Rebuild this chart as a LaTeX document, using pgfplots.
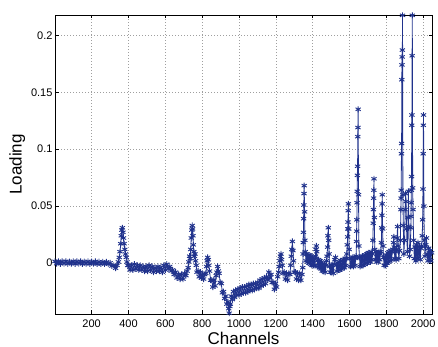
\documentclass[border=0pt]{standalone}
\usepackage{pgfplots}
\pgfplotsset{compat=1.18}
\usepackage{pgfplotstable}
\usepackage{fontspec}
\setmainfont{Liberation Sans}
\definecolor{specblue}{RGB}{32,50,140}
\pgfplotstableread{
x y
1 0.0015
10 -0.0005
20 0.0016
30 -0.0006
40 0.0014
50 -0.0004
60 0.0016
70 -0.0006
80 0.0013
90 -0.0005
100 0.0016
110 -0.0006
120 0.0014
130 -0.0004
140 0.0015
150 -0.0007
160 0.0013
170 -0.0005
180 0.0015
190 -0.0006
200 0.0012
210 -0.0005
220 0.0014
230 -0.0008
240 0.0012
250 -0.0006
260 0.0011
270 -0.0008
280 0.0010
290 -0.0010
300 0.0002
310 -0.0025
320 -0.002
330 -0.0045
338 -0.002
345 0.001
350 0.005
354 0.010
358 0.017
361 0.024
364 0.029
367 0.031
370 0.027
373 0.022
376 0.017
380 0.012
384 0.008
388 0.005
392 0.001
396 -0.002
400 -0.002
408 -0.006
416 -0.002
424 -0.006
432 -0.001
440 -0.005
448 -0.002
456 -0.006
464 -0.002
472 -0.006
480 -0.003
488 -0.007
496 -0.003
504 -0.007
512 -0.002
520 -0.006
528 -0.003
536 -0.008
544 -0.004
552 -0.007
560 -0.003
568 -0.007
576 -0.004
584 -0.008
592 -0.002
600 -0.006
608 -0.001
616 -0.005
624 -0.003
632 -0.007
640 -0.006
648 -0.010
656 -0.008
664 -0.013
672 -0.010
680 -0.014
688 -0.010
696 -0.014
704 -0.009
712 -0.011
718 -0.007
724 -0.004
728 0.001
732 0.006
735 0.004
738 0.012
741 0.022
744 0.029
746 0.033
748 0.030
750 0.024
752 0.016
755 0.010
758 0.006
761 0.008
764 0.002
768 -0.002
772 -0.008
778 -0.007
784 -0.012
790 -0.008
796 -0.013
802 -0.010
808 -0.014
814 -0.010
820 -0.009
824 -0.003
827 0.002
830 0.005
833 0.003
836 -0.002
840 -0.007
846 -0.015
852 -0.015
858 -0.021
864 -0.015
870 -0.020
876 -0.011
880 -0.008
884 -0.003
888 -0.007
892 -0.009
898 -0.017
904 -0.018
910 -0.026
916 -0.025
922 -0.031
928 -0.029
934 -0.036
940 -0.034
944 -0.040
947 -0.044
950 -0.038
953 -0.036
958 -0.029
964 -0.032
970 -0.025
976 -0.030
982 -0.024
988 -0.028
994 -0.023
1000 -0.028
1006 -0.022
1012 -0.027
1018 -0.021
1024 -0.026
1030 -0.021
1036 -0.026
1042 -0.020
1048 -0.025
1054 -0.019
1060 -0.024
1066 -0.019
1072 -0.024
1078 -0.018
1084 -0.023
1090 -0.018
1096 -0.022
1102 -0.017
1108 -0.022
1114 -0.015
1120 -0.020
1126 -0.014
1132 -0.019
1138 -0.013
1144 -0.018
1150 -0.012
1156 -0.015
1162 -0.008
1168 -0.013
1174 -0.010
1180 -0.017
1186 -0.017
1192 -0.023
1198 -0.018
1204 -0.021
1210 -0.012
1215 -0.008
1218 -0.003
1222 0.002
1225 0.006
1228 0.008
1231 0.003
1235 -0.002
1240 -0.009
1246 -0.008
1252 -0.014
1258 -0.009
1264 -0.015
1270 -0.009
1276 -0.010
1281 -0.002
1284 0.006
1287 0.012
1290 0.019
1293 0.011
1296 0.002
1300 -0.008
1306 -0.008
1312 -0.014
1318 -0.009
1324 -0.015
1330 -0.009
1336 -0.015
1342 -0.010
1346 -0.004
1348 0.008
1349 0.018
1350 0.027
1351 0.039
1352 0.051
1353 0.061
1354 0.068
1356 0.045
1358 0.020
1360 0.010
1364 0.002
1368 0.008
1372 0.001
1376 0.007
1380 0.000
1384 0.007
1388 -0.001
1392 0.006
1396 -0.002
1400 0.005
1404 -0.002
1408 0.004
1412 -0.002
1416 0.006
1418 0.012
1420 0.015
1422 0.010
1425 0.002
1428 -0.003
1432 0.003
1436 -0.004
1440 0.002
1444 -0.005
1448 0.001
1452 -0.007
1456 -0.001
1460 -0.007
1464 -0.001
1468 -0.008
1472 -0.002
1476 0.002
1478 0.006
1481 0.014
1483 0.024
1485 0.031
1487 0.020
1489 0.008
1492 -0.003
1496 -0.008
1500 -0.002
1504 -0.008
1508 -0.002
1512 -0.009
1516 -0.001
1520 0.003
1524 0.005
1528 -0.002
1532 -0.007
1536 0.000
1540 -0.006
1544 0.001
1548 -0.006
1552 0.002
1556 -0.005
1560 0.002
1564 -0.004
1568 0.003
1572 -0.004
1576 0.004
1580 -0.002
1584 0.004
1586 0.008
1588 0.016
1590 0.023
1591 0.030
1592 0.036
1593 0.046
1594 0.052
1596 0.030
1598 0.012
1602 0.004
1606 -0.003
1610 0.004
1614 -0.002
1618 0.005
1622 -0.003
1626 0.005
1630 -0.002
1634 0.004
1636 0.006
1638 0.019
1639 0.028
1640 0.038
1641 0.053
1642 0.063
1643 0.077
1644 0.085
1645 0.111
1646 0.119
1647 0.135
1649 0.060
1651 0.015
1654 0.005
1658 -0.003
1662 0.005
1666 -0.002
1670 0.006
1674 -0.002
1678 0.006
1682 -0.001
1686 0.007
1690 0.000
1694 0.008
1698 0.000
1702 0.009
1706 0.001
1710 0.009
1714 0.001
1718 0.010
1722 0.003
1724 0.008
1727 0.020
1729 0.035
1730 0.047
1731 0.057
1732 0.064
1733 0.074
1735 0.040
1737 0.012
1740 0.003
1744 0.010
1748 0.001
1752 0.009
1756 0.001
1760 0.010
1764 0.003
1767 0.008
1770 0.010
1773 0.018
1775 0.031
1776 0.042
1777 0.052
1778 0.060
1780 0.030
1782 0.015
1785 0.005
1788 -0.002
1792 0.005
1796 -0.002
1800 0.007
1804 0.000
1808 0.009
1812 0.001
1816 0.010
1820 0.002
1824 0.011
1828 0.003
1832 0.010
1836 0.012
1839 0.018
1841 0.023
1843 0.014
1846 0.004
1850 0.010
1853 0.003
1855 0.012
1858 0.022
1861 0.032
1864 0.015
1868 0.004
1872 0.011
1876 0.020
1879 0.047
1880 0.057
1881 0.064
1882 0.096
1883 0.105
1884 0.161
1885 0.174
1886 0.181
1887 0.187
1888 0.2175
1890 0.060
1892 0.033
1895 0.008
1899 0.020
1902 0.047
1905 0.061
1907 0.054
1910 0.030
1914 0.010
1918 0.040
1920 0.063
1922 0.032
1926 0.006
1930 0.012
1933 0.031
1934 0.041
1935 0.053
1936 0.064
1937 0.076
1938 0.121
1939 0.130
1940 0.182
1941 0.2175
1943 0.066
1945 0.047
1948 0.020
1952 0.004
1956 0.014
1960 0.002
1964 0.016
1968 0.004
1972 0.018
1976 0.005
1980 0.014
1984 0.003
1988 0.013
1992 0.015
1995 0.024
1997 0.038
1999 0.065
2000 0.096
2001 0.121
2002 0.130
2004 0.050
2006 0.020
2010 0.006
2014 0.016
2018 0.022
2022 0.008
2026 0.002
2030 0.013
2034 0.003
2038 0.011
2042 0.002
2046 0.009
}\spectrum
\begin{document}
\begin{tikzpicture}
\path[use as bounding box] (0,0) rectangle (438pt,347pt);
\begin{axis}[
  at={(55pt,33pt)}, anchor=south west,
  width=377pt, height=299pt, scale only axis,
  xmin=1, xmax=2048, ymin=-0.0447, ymax=0.2178,
  xtick={200,400,600,800,1000,1200,1400,1600,1800,2000},
  xticklabels={200,400,600,800,1000,1200,1400,1600,1800,2000},
  ytick={0,0.05,0.1,0.15,0.2},
  yticklabels={0,0.05,0.1,0.15,0.2},
  /pgf/number format/assume math mode=true,
  tick label style={font=\fontsize{11}{13}\selectfont},
  xticklabel style={yshift=-2pt},
  yticklabel style={xshift=1pt},
  tick align=inside, major tick length=3.5pt,
  every tick/.style={black, line width=0.5pt},
  grid=major,
  major grid style={gray!75, line width=0.6pt, dash pattern=on 0.6pt off 2.4pt},
  axis line style={black, line width=0.7pt},
  xlabel={Channels}, ylabel={Loading},
  label style={font=\fontsize{17}{19}\selectfont},
  xlabel style={yshift=2pt},
  ylabel style={yshift=-1pt},
  clip mode=individual,
]
\addplot[color=specblue, line width=0.8pt, mark=asterisk, mark size=3pt,
  mark options={solid, line width=0.9pt}] table[x=x, y=y] {\spectrum};
\end{axis}
\end{tikzpicture}
\end{document}
